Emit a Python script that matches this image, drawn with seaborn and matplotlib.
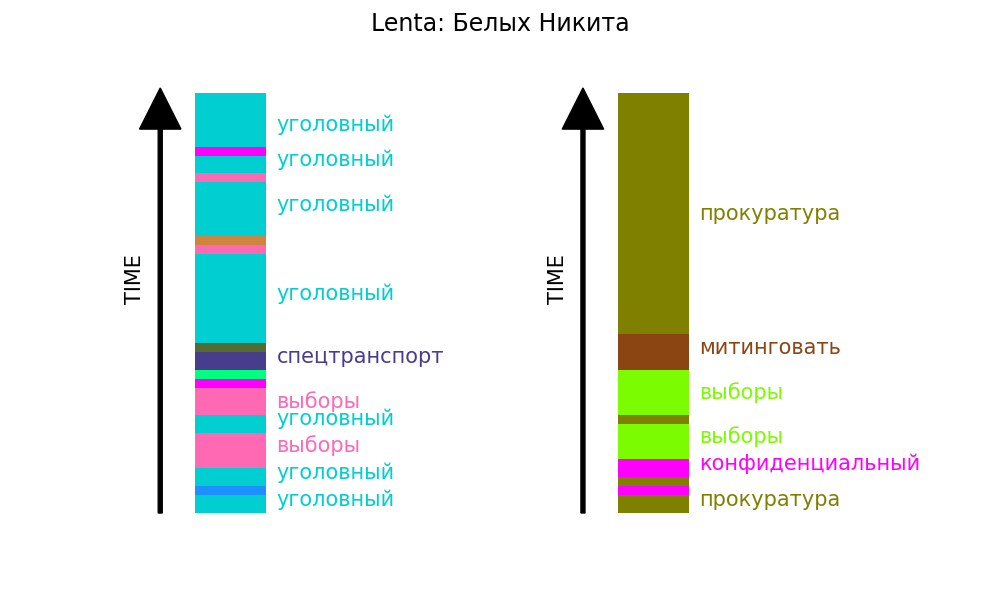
import matplotlib
matplotlib.use('Agg')
import matplotlib.pyplot as plt
import seaborn as sns
import pandas as pd

# segments from bottom (oldest) to top (newest), one unit = one article
left_colors = ['darkturquoise', 'dodgerblue', 'darkturquoise', 'hotpink', 'darkturquoise',
               'hotpink', 'magenta', 'springgreen', 'darkslateblue', 'darkolivegreen',
               'darkturquoise', 'hotpink', 'peru', 'darkturquoise', 'hotpink',
               'darkturquoise', 'magenta', 'darkturquoise']
left_units = [2, 1, 2, 4, 2, 3, 1, 1, 2, 1, 10, 1, 1, 6, 1, 2, 1, 6]

left_labels = ['уголовный', 'уголовный', 'уголовный', 'уголовный', 'спецтранспорт',
               'выборы', 'уголовный', 'выборы', 'уголовный', 'уголовный']
left_label_colors = ['darkturquoise', 'darkturquoise', 'darkturquoise', 'darkturquoise',
                     'darkslateblue', 'hotpink', 'darkturquoise', 'hotpink',
                     'darkturquoise', 'darkturquoise']
left_label_units = [43, 39, 34, 24, 17, 12, 10, 7, 4, 1]

right_colors = ['olive', 'magenta', 'olive', 'magenta', 'lawngreen', 'olive',
                'lawngreen', 'saddlebrown', 'olive']
right_units = [2, 1, 1, 2, 4, 1, 5, 4, 27]

right_labels = ['прокуратура', 'митинговать', 'выборы', 'выборы',
                'конфиденциальный', 'прокуратура']
right_label_colors = ['olive', 'saddlebrown', 'lawngreen', 'lawngreen', 'magenta', 'olive']
right_label_units = [33, 18, 13, 8, 5, 1]

sns.set_theme(style='white')
plt.rcParams['font.family'] = ['DejaVu Sans']
plt.rcParams['text.color'] = 'black'


def draw_column(ax, colors, units, labels, label_colors, label_units):
    df = pd.DataFrame({'color': colors, 'units': units})
    df['top'] = df['units'].cumsum()
    df['seg'] = ['s%d' % i for i in range(len(df))]
    df['x'] = 0.3
    # draw the tallest cumulative bar first so shorter ones sit on top of it
    order = df.sort_values('top', ascending=False)['seg'].tolist()
    pal = dict(zip(df['seg'], df['color']))
    sns.barplot(data=df, x='x', y='top', hue='seg', hue_order=order, palette=pal,
                native_scale=True, width=0.2, dodge=False, legend=False,
                errorbar=None, saturation=1, linewidth=0, ax=ax)
    total = df['top'].iloc[-1]
    pad = total * 0.05
    ax.set_xlim(0, 1)
    ax.set_ylim(-pad, total + pad)

    ax.arrow(0.1, 0, 0, total - 4.04, width=0.0114, head_width=0.1175,
             head_length=4.6, color='black')
    ax.text(0.029, 26.2, 'TIME', rotation=90, ha='center', va='center',
            fontsize=15, color='black', transform=ax.get_yaxis_transform())

    for lab, col, u in zip(labels, label_colors, label_units):
        ax.text(0.43, u + 0.5, lab, color=col, fontsize=15, ha='left', va='center')
    ax.axis('off')


fig, axes = plt.subplots(1, 2, figsize=(10, 6), dpi=100)
draw_column(axes[0], left_colors, left_units, left_labels, left_label_colors, left_label_units)
draw_column(axes[1], right_colors, right_units, right_labels, right_label_colors, right_label_units)
fig.suptitle('Lenta: Белых Никита', fontsize=17, color='black')

plt.savefig('out.png', dpi=100)
